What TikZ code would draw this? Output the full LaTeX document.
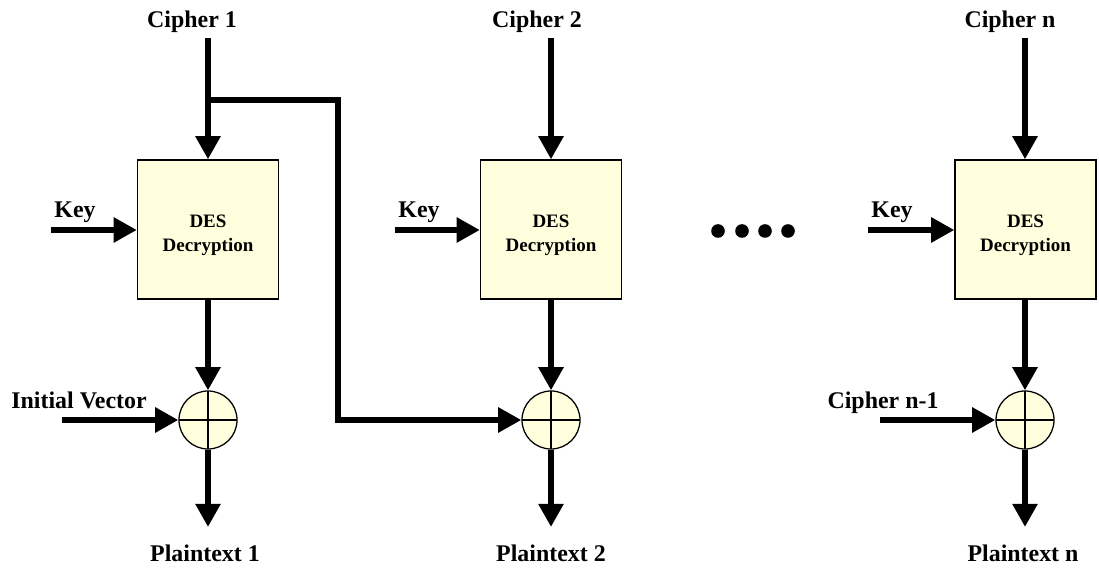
\documentclass[tikz,border=0pt]{standalone}
\usepackage{fontspec}
\setmainfont{Liberation Serif}
\usetikzlibrary{arrows.meta}
\definecolor{desfill}{RGB}{255,255,221}

\begin{document}
\begin{tikzpicture}[x=0.025cm, y=-0.025cm,
	lbl/.style={font=\fontsize{17}{20}\selectfont\bfseries, inner sep=0},
	destext/.style={font=\fontsize{13.5}{17.5}\selectfont\bfseries, align=center, inner sep=0, yshift=-4pt},
	desbox/.style={draw, line width=0.9pt, fill=desfill, minimum width=3.525cm, minimum height=3.475cm,
		label={[destext]center:DES\\Decryption}},
	xorc/.style={circle, draw, line width=0.9pt, fill=desfill, minimum size=1.45cm, inner sep=0,
		path picture={\draw[line width=0.9pt] (path picture bounding box.north) -- (path picture bounding box.south)
			(path picture bounding box.west) -- (path picture bounding box.east);}},
	flow/.style={line width=4.2pt, -{Triangle[length=0.58cm, width=0.6cm]}},
	wire/.style={line width=4.2pt}]
		\useasboundingbox (0,0) rectangle (1099,569);
		% block 1
		\node (c1) at (192,22) [lbl] {Cipher 1};
		\node (d1) at (208,229.5) [desbox] {};
		\node (x1) at (208,420) [xorc] {};
		\node (k1) at (75,212) [lbl] {Key};
		\node (iv) at (79,400) [lbl] {Initial Vector};
		\node (p1) at (205,553) [lbl] {Plaintext 1};
		\coordinate (c1in) at (208,38);
		\coordinate (k1in) at (51,230);
		\coordinate (ivin) at (62,420);
		\coordinate (p1out) at (208,527);
		\coordinate (br) at (208,100);
		\coordinate (brc) at (338,100);
		\draw[flow] (c1in) -- (d1);
		\draw[flow] (k1in) -- (k1in -| d1.west);
		\draw[flow] (d1) -- (x1);
		\draw[flow] (ivin) -- (x1);
		\draw[flow] (x1) -- (p1out);
		% block 2
		\node (c2) at (537,22) [lbl] {Cipher 2};
		\node (d2) at (551,229.5) [desbox] {};
		\node (x2) at (551,420) [xorc] {};
		\node (k2) at (419,212) [lbl] {Key};
		\node (p2) at (551,553) [lbl] {Plaintext 2};
		\coordinate (c2in) at (551,38);
		\coordinate (k2in) at (395,230);
		\coordinate (p2out) at (551,527);
		\draw[flow] (c2in) -- (d2);
		\draw[flow] (k2in) -- (k2in -| d2.west);
		\draw[flow] (d2) -- (x2);
		\draw[flow] (x2) -- (p2out);
		\draw[flow, line join=miter] (br) -- (brc) |- (x2);
		% dots
		\foreach \dx/\nm in {718/dA, 742/dB, 765/dC, 788/dD}
			\node (\nm) at (\dx,231) [circle, fill, inner sep=0, minimum size=0.34cm] {};
		% block n
		\node (cn) at (1010,22) [lbl] {Cipher n};
		\node (dn) at (1025.5,229.5) [desbox] {};
		\node (xn) at (1025,420) [xorc] {};
		\node (kn) at (892,212) [lbl] {Key};
		\node (cp) at (883,403) [lbl] {Cipher n-1};
		\node (pn) at (1023,553) [lbl] {Plaintext n};
		\coordinate (cnin) at (1025,38);
		\coordinate (knin) at (868,230);
		\coordinate (cpin) at (880,420);
		\coordinate (pnout) at (1025,527);
		\draw[flow] (cnin) -- (cnin |- dn.north);
		\draw[flow] (knin) -- (knin -| dn.west);
		\draw[flow] (dn.south -| xn) -- (xn);
		\draw[flow] (cpin) -- (xn);
		\draw[flow] (xn) -- (pnout);
\end{tikzpicture}
\end{document}
